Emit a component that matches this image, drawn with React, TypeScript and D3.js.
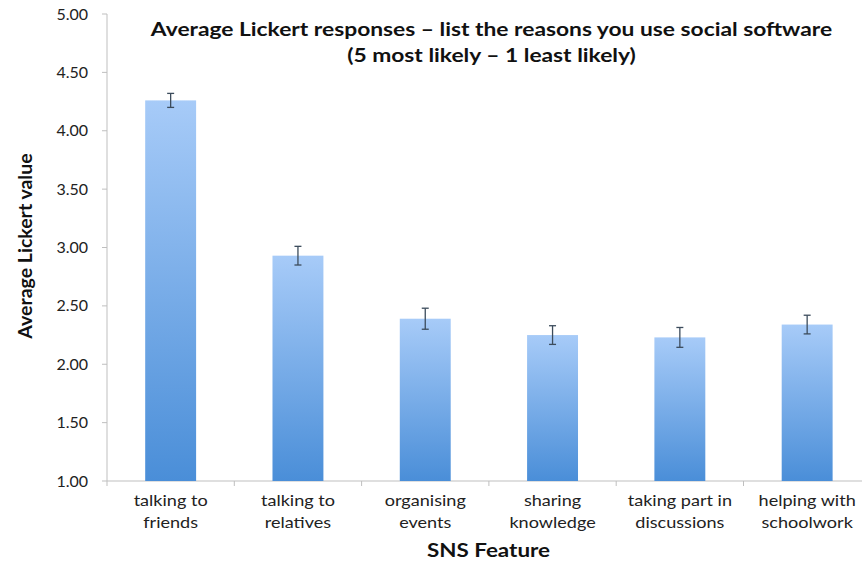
import React from "react";
import * as d3 from "d3";

const categories = [
  ["talking to", "friends"],
  ["talking to", "relatives"],
  ["organising", "events"],
  ["sharing", "knowledge"],
  ["taking part in", "discussions"],
  ["helping with", "schoolwork"],
];
const values = [4.26, 2.93, 2.39, 2.25, 2.23, 2.34];
const errors = [0.06, 0.08, 0.09, 0.08, 0.085, 0.08];
const yTicks = [1.0, 1.5, 2.0, 2.5, 3.0, 3.5, 4.0, 4.5, 5.0];
const titleLines = [
  "Average Lickert responses \u2013 list the reasons you use social software",
  "(5 most likely \u2013 1 least likely)",
];
const yTitle = "Average Lickert value";
const xTitle = "SNS Feature";

const W = 862;
const H = 563;
const FONT = "Lato, 'Open Sans', sans-serif";

export default function App() {
  const left = 107;
  const step = 127.3;
  const keys = categories.map((_, i) => String(i));
  const x = d3
    .scaleBand<string>()
    .domain(keys)
    .range([left, left + step * keys.length])
    .paddingInner(0.6)
    .paddingOuter(0.3);
  const y = d3.scaleLinear().domain([1, 5]).range([481, 14]);
  const fmt = d3.format(".2f");
  const axisColor = "#bfbfbf";
  const boundaries = d3.range(keys.length + 1).map((i) => left + i * x.step());

  return (
    <svg
      width={W}
      height={H}
      style={{ position: "absolute", left: 0, top: 0, display: "block", background: "#fff" }}
      fontFamily={FONT}
    >
      <defs>
        <linearGradient id="barGrad" x1="0" y1="0" x2="0" y2="1">
          <stop offset="0%" stopColor="#a7cbf8" />
          <stop offset="100%" stopColor="#4a8ed8" />
        </linearGradient>
      </defs>
      <rect x={0} y={0} width={W} height={H} fill="#fff" />

      {/* y axis */}
      <line x1={left} x2={left} y1={y(5)} y2={y(1)} stroke={axisColor} strokeWidth={1} />
      {yTicks.map((t) => (
        <g key={t}>
          <line x1={left - 5} x2={left} y1={y(t)} y2={y(t)} stroke={axisColor} />
          <text
            x={88}
            y={y(t)}
            dy="0.35em"
            textAnchor="end"
            fontSize={16}
            fill="#222"
          >
            {fmt(t)}
          </text>
        </g>
      ))}

      {/* x axis */}
      <line x1={left} x2={boundaries[boundaries.length - 1]} y1={y(1)} y2={y(1)} stroke={axisColor} />
      {boundaries.map((b, i) => (
        <line key={i} x1={b} x2={b} y1={y(1)} y2={y(1) + 5} stroke={axisColor} />
      ))}

      {/* bars */}
      {values.map((v, i) => (
        <rect
          key={i}
          x={x(keys[i])}
          y={y(v)}
          width={x.bandwidth()}
          height={y(1) - y(v)}
          fill="url(#barGrad)"
        />
      ))}

      {/* error bars */}
      {values.map((v, i) => {
        const cx = (x(keys[i]) as number) + x.bandwidth() / 2;
        const top = y(v + errors[i]);
        const bot = y(v - errors[i]);
        return (
          <g key={i} stroke="#3c4c5c" strokeWidth={1.3}>
            <line x1={cx} x2={cx} y1={top} y2={bot} />
            <line x1={cx - 3.5} x2={cx + 3.5} y1={top} y2={top} />
            <line x1={cx - 3.5} x2={cx + 3.5} y1={bot} y2={bot} />
          </g>
        );
      })}

      {/* category labels */}
      {categories.map((c, i) => {
        const cx = (x(keys[i]) as number) + x.bandwidth() / 2;
        return (
          <g key={i} transform={`translate(${cx},0) scale(1.13,1)`}>
            <text x={0} textAnchor="middle" fontSize={16} fill="#222">
              <tspan x={0} y={506}>{c[0]}</tspan>
              <tspan x={0} y={528}>{c[1]}</tspan>
            </text>
          </g>
        );
      })}

      {/* titles */}
      <g transform="translate(491.5,0) scale(1.2,1)">
        <text x={0} textAnchor="middle" fontSize={19} fontWeight="bold" fill="#111">
          <tspan x={0} y={36}>{titleLines[0]}</tspan>
          <tspan x={0} y={62}>{titleLines[1]}</tspan>
        </text>
      </g>
      <text
        transform={`translate(32, 246) rotate(-90)`}
        textAnchor="middle"
        fontSize={19.5}
        fontWeight="bold"
        fill="#111"
      >
        {yTitle}
      </text>
      <g transform="translate(488.5,0) scale(1.18,1)">
        <text x={0} y={557} textAnchor="middle" fontSize={19} fontWeight="bold" fill="#111">
          {xTitle}
        </text>
      </g>
    </svg>
  );
}
